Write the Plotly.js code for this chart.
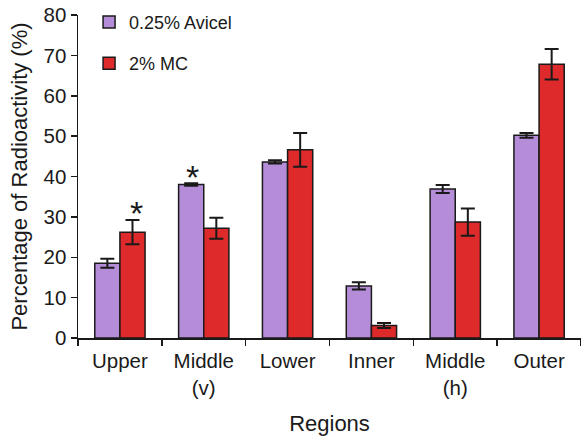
<!DOCTYPE html>
<html>
<head>
<meta charset="utf-8">
<script src="https://cdn.plot.ly/plotly-3.0.1.min.js"></script>
<style>html,body{margin:0;padding:0;background:#fff;}#chart{width:581px;height:436px;}</style>
</head>
<body>
<div id="chart"></div>
<script>
const categories = ["Upper", "Middle<br>(v)", "Lower", "Inner", "Middle<br>(h)", "Outer"];
const avicelValues = [18.5, 38.0, 43.6, 12.9, 36.9, 50.2];
const avicelErrors = [1.1, 0.3, 0.4, 0.9, 1.0, 0.6];
const mcValues = [26.2, 27.2, 46.6, 3.1, 28.7, 67.8];
const mcErrors = [3.0, 2.6, 4.2, 0.6, 3.4, 3.8];
const seriesNames = ["0.25% Avicel", "2% MC"];
const starMarks = [
  {category: "Upper", value: 29.5, xshift: 17},
  {category: "Middle<br>(v)", value: 38.5, xshift: -11}
];

const font = "Liberation Sans, Arial, sans-serif";
const ink = "#1a1a1a";

const errStyle = {type: "data", visible: true, color: ink, thickness: 2, width: 7};

const traces = [
  {
    type: "bar", name: seriesNames[0], x: categories, y: avicelValues,
    marker: {color: "#B48CD8", line: {color: ink, width: 1.5}},
    error_y: Object.assign({array: avicelErrors}, errStyle),
    legendgroup: "a"
  },
  {
    type: "bar", name: seriesNames[1], x: categories, y: mcValues,
    marker: {color: "#DE2A2A", line: {color: ink, width: 1.5}},
    error_y: Object.assign({array: mcErrors}, errStyle),
    legendgroup: "b"
  }
];

const layout = {
  width: 581, height: 436,
  margin: {l: 78, r: 0, t: 15, b: 98},
  paper_bgcolor: "#fff", plot_bgcolor: "#fff",
  font: {family: font, color: ink, size: 20.5},
  barmode: "group", bargap: 0.4, bargroupgap: 0,
  showlegend: true,
  legend: {
    x: 0.022, y: 1.035, xanchor: "left", yanchor: "top",
    bgcolor: "rgba(0,0,0,0)", font: {size: 18, family: font, color: ink},
    tracegroupgap: 15, traceorder: "grouped"
  },
  xaxis: {
    type: "category", showline: true, linecolor: ink, linewidth: 1.5,
    ticks: "outside", tickson: "boundaries", ticklen: 6, tickcolor: ink, tickwidth: 1.5,
    showgrid: false, zeroline: false,
    tickfont: {size: 20.5},
    ticklabelstandoff: 4,
    title: {text: "Regions", font: {size: 22}, standoff: 22}
  },
  yaxis: {
    range: [0, 80], dtick: 10, showline: true, linecolor: ink, linewidth: 1.5,
    ticks: "outside", ticklen: 6, tickcolor: ink, tickwidth: 1.5,
    showgrid: false, zeroline: false,
    tickfont: {size: 20.5},
    title: {text: "Percentage of Radioactivity (%)", font: {size: 22}, standoff: 10}
  },
  annotations: starMarks.map(s => ({
    x: s.category, y: s.value, xref: "x", yref: "y",
    text: "*", showarrow: false, xshift: s.xshift, yshift: -15,
    yanchor: "bottom", font: {size: 34, family: font, color: ink}
  }))
};

Plotly.newPlot("chart", traces, layout, {displayModeBar: false, staticPlot: true});
</script>
</body>
</html>
